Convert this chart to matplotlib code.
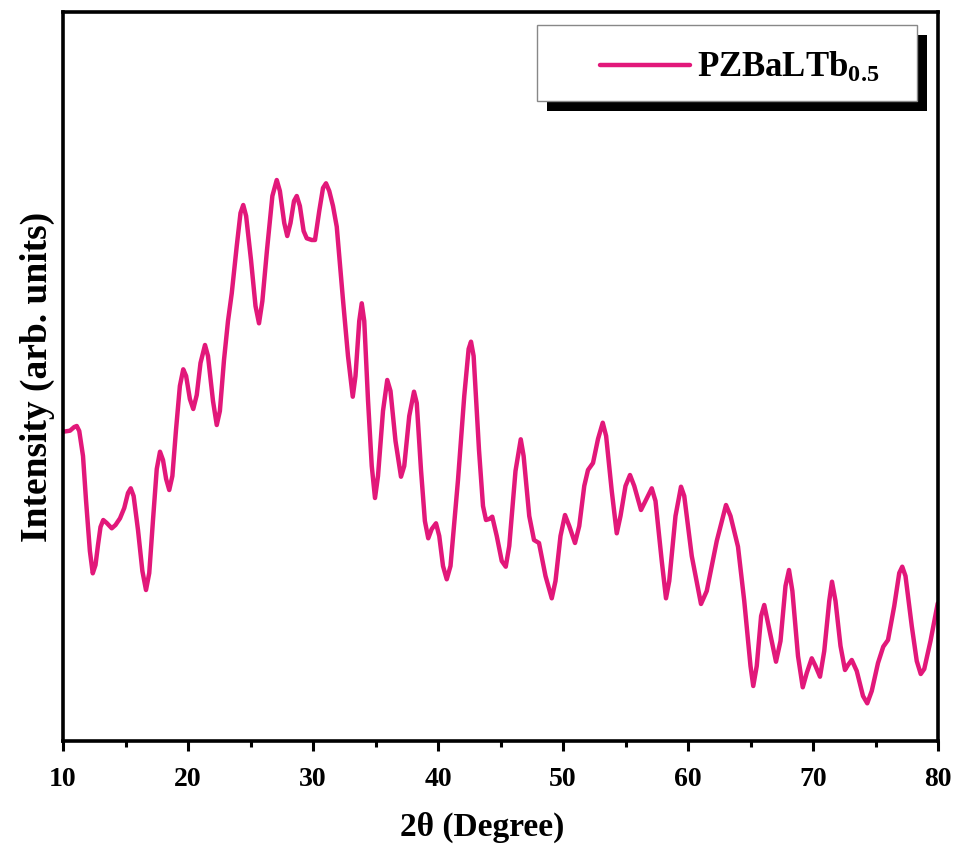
import matplotlib
matplotlib.use("Agg")
import matplotlib.pyplot as plt
from matplotlib.patches import Rectangle
from matplotlib.ticker import MultipleLocator

# values (intensity in arbitrary units)
two_theta = [
    10.02, 10.56, 10.90, 11.10, 11.30, 11.60, 11.84, 12.15, 12.38, 12.60,
    12.80, 13.00, 13.22, 13.50, 13.90, 14.20, 14.56, 14.90, 15.20, 15.42,
    15.65, 16.00, 16.35, 16.64, 16.90, 17.20, 17.50, 17.76, 18.00, 18.25,
    18.50, 18.75, 19.04, 19.35, 19.62, 19.85, 20.15, 20.42, 20.70, 21.00,
    21.36, 21.60, 22.00, 22.30, 22.55, 22.88, 23.20, 23.50, 23.90, 24.20,
    24.42, 24.65, 25.04, 25.40, 25.68, 25.95, 26.32, 26.75, 27.10, 27.35,
    27.70, 27.94, 28.20, 28.48, 28.70, 28.95, 29.25, 29.50, 29.90, 30.16,
    30.50, 30.80, 31.04, 31.30, 31.60, 31.90, 32.40, 32.80, 33.18, 33.40,
    33.70, 33.90, 34.10, 34.40, 34.70, 34.96, 35.20, 35.60, 35.94, 36.20,
    36.60, 37.04, 37.30, 37.70, 38.08, 38.30, 38.64, 38.95, 39.22, 39.50,
    39.84, 40.10, 40.40, 40.70, 41.00, 41.60, 42.10, 42.45, 42.64, 42.85,
    43.28, 43.60, 43.84, 44.10, 44.34, 44.70, 45.10, 45.42, 45.70, 46.20,
    46.62, 46.85, 47.30, 47.68, 48.08, 48.60, 49.10, 49.40, 49.80, 50.16,
    50.50, 50.96, 51.30, 51.70, 52.00, 52.40, 52.80, 53.18, 53.45, 53.90,
    54.30, 54.60, 55.00, 55.36, 55.70, 56.24, 56.60, 57.10, 57.40, 57.90,
    58.24, 58.50, 59.00, 59.44, 59.70, 60.30, 61.04, 61.50, 62.30, 63.04,
    63.40, 64.00, 64.50, 65.00, 65.22, 65.50, 65.85, 66.10, 66.40, 67.04,
    67.40, 67.80, 68.08, 68.35, 68.80, 69.18, 69.50, 69.90, 70.20, 70.56,
    70.90, 71.30, 71.52, 71.80, 72.20, 72.56, 72.80, 73.10, 73.50, 74.00,
    74.34, 74.70, 75.20, 75.62, 76.00, 76.50, 76.90, 77.14, 77.40, 77.90,
    78.30, 78.62, 78.90, 79.40, 79.98,
]
intensity = [
    309.3, 310.3, 314.0, 315.0, 310.0, 285.0, 241.0, 190.0, 167.7, 176.0,
    196.0, 214.0, 221.0, 218.0, 212.7, 216.0, 222.7, 233.0, 248.0, 252.7,
    245.0, 211.0, 170.0, 151.0, 168.0, 221.0, 272.0, 289.3, 281.0, 262.0,
    251.0, 265.0, 311.0, 355.0, 371.7, 365.0, 342.0, 332.0, 346.0, 378.0,
    396.0, 385.0, 340.0, 316.0, 330.0, 381.0, 420.0, 447.7, 495.0, 528.0,
    536.0, 525.0, 481.0, 435.0, 417.7, 440.0, 491.0, 545.0, 561.0, 550.0,
    518.0, 505.0, 518.0, 540.0, 545.0, 535.0, 510.0, 502.7, 501.0, 501.0,
    530.0, 553.0, 557.7, 550.0, 535.0, 514.3, 441.0, 385.0, 344.3, 365.0,
    420.0, 437.7, 420.0, 341.0, 275.0, 243.0, 265.0, 330.0, 361.0, 350.0,
    300.0, 264.3, 275.0, 325.0, 349.3, 338.0, 271.0, 220.0, 202.7, 212.0,
    217.7, 205.0, 175.0, 161.7, 175.0, 261.0, 345.0, 392.0, 399.3, 385.0,
    291.0, 235.0, 221.0, 222.0, 224.3, 205.0, 180.0, 174.3, 195.0, 270.0,
    301.7, 285.0, 225.0, 201.0, 198.0, 165.0, 142.7, 160.0, 205.0, 226.0,
    215.0, 198.0, 215.0, 255.0, 271.0, 278.0, 302.0, 318.3, 305.0, 250.0,
    207.7, 225.0, 255.0, 266.0, 255.0, 231.0, 240.0, 252.7, 240.0, 180.0,
    142.7, 160.0, 225.0, 254.3, 245.0, 185.0, 137.0, 150.0, 200.0, 236.0,
    225.0, 194.3, 140.0, 75.0, 55.0, 75.0, 125.0, 136.0, 118.0, 79.3,
    100.0, 155.0, 171.0, 150.0, 85.0, 53.7, 68.0, 82.7, 75.0, 64.3,
    90.0, 140.0, 159.3, 140.0, 95.0, 71.0, 76.0, 81.0, 70.0, 45.0,
    37.7, 50.0, 78.0, 94.3, 101.0, 135.0, 168.0, 174.3, 165.0, 115.0,
    80.0, 67.0, 72.0, 100.0, 137.7,
]

label = "PZBaLTb$_{0.5}$"
line_color = "#E2187A"

plt.rcParams["font.family"] = "Liberation Serif"
plt.rcParams["font.weight"] = "bold"
plt.rcParams["mathtext.fontset"] = "custom"
plt.rcParams["mathtext.rm"] = "Liberation Serif:bold"
plt.rcParams["mathtext.it"] = "Liberation Serif:bold"
plt.rcParams["mathtext.bf"] = "Liberation Serif:bold"

fig = plt.figure(figsize=(9.56, 8.5), dpi=100)
ax = fig.add_axes([63 / 956, 1 - 741 / 850, 875 / 956, 729 / 850])

ax.plot(two_theta, intensity, color=line_color, lw=3.2,
        solid_joinstyle="round", solid_capstyle="round", label=label)

ax.set_xlim(10, 80)
ax.set_ylim(0, 729)
ax.xaxis.set_major_locator(MultipleLocator(10))
ax.xaxis.set_minor_locator(MultipleLocator(5))
ax.set_yticks([])
ax.tick_params(axis="x", which="major", direction="out", length=7, width=2.2,
               labelsize=20, pad=12)
ax.tick_params(axis="x", which="minor", direction="out", length=4, width=2.2)
for sp in ax.spines.values():
    sp.set_linewidth(2.6)

ax.set_xlabel("2θ (Degree)", fontsize=24, fontweight="bold", labelpad=14)
ax.xaxis.label.set_x(0.479)
ax.set_ylabel("Intensity (arb. units)", fontsize=27, fontweight="bold", labelpad=6)

# legend box with a solid black drop shadow
W, H = 956, 850
ax.add_patch(Rectangle((547 / W, 1 - 111 / H), 380 / W, 76 / H, transform=fig.transFigure,
                       facecolor="black", edgecolor="none", zorder=4, clip_on=False))
ax.add_patch(Rectangle((537 / W, 1 - 101 / H), 380 / W, 76 / H, transform=fig.transFigure,
                       facecolor="white", edgecolor="#888888", lw=1, zorder=4.5, clip_on=False))
ax.legend(loc="center left", bbox_to_anchor=(600 / W, 1 - 68 / H),
          bbox_transform=fig.transFigure, frameon=False, fontsize=25,
          handlelength=2.6, handletextpad=0.2, borderpad=0, borderaxespad=0)

fig.savefig("out.png", dpi=100)
